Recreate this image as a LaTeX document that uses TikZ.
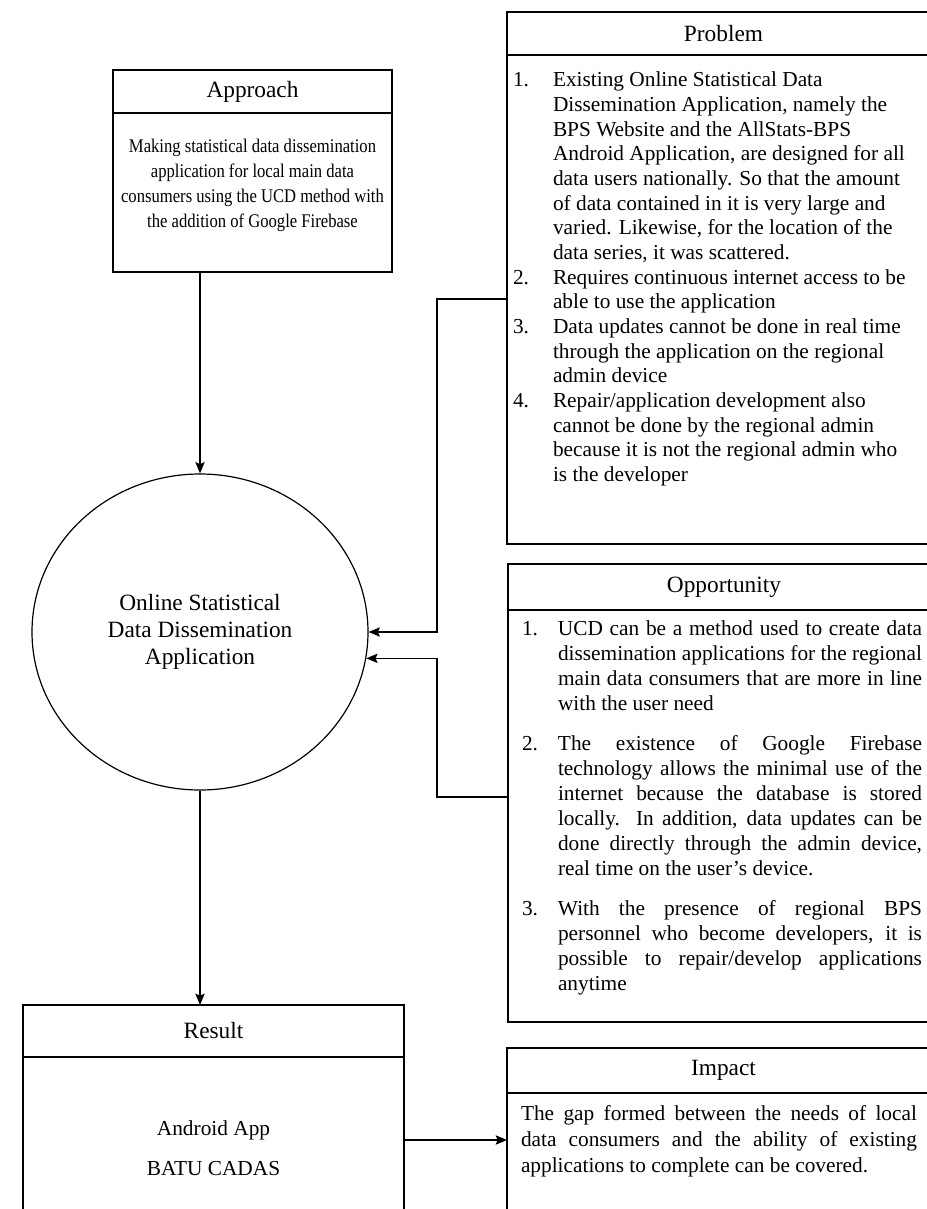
\documentclass[tikz,border=0pt]{standalone}
\usepackage{fontspec}
\setmainfont{Liberation Serif}
\newfontfamily\narrowserif[FakeStretch=0.86]{Liberation Serif}
\usetikzlibrary{positioning,shapes.geometric,arrows.meta}
\newlength\pxu
\setlength\pxu{0.75pt}
\newlength\linew
\newcommand{\jl}[1]{\makebox[\linew][s]{#1}}
\begin{document}
\begin{tikzpicture}[
    x=0.75pt, y=-0.75pt,
    line width=0.9pt,
    panel/.style={draw, rectangle, inner sep=0pt, outer sep=0pt},
    titlebox/.style={panel, font=\fontsize{17.5}{21}\selectfont},
    txt/.style={inner sep=0pt, outer sep=0pt, anchor=base west},
    thickline/.style={line width=2.2pt},
    arr/.style={->, >={Stealth[length=8.5pt, width=7pt, inset=1.5pt]}},
]
    \useasboundingbox (0,0) rectangle (927,1209);

    % Approach
    \node[titlebox, minimum width=279\pxu, minimum height=43\pxu, anchor=north west] (apprT) at (113,70) {Approach};
    \node[panel, minimum width=279\pxu, minimum height=159\pxu, below=0pt of apprT] (apprB) {};
    \node[inner sep=0pt, anchor=base, font=\narrowserif\fontsize{14.5}{18.75}\selectfont] (apprText) at (252.5,152) {\begin{tabular}[t]{@{}c@{}}
        Making statistical data dissemination\\
        application for local main data\\
        consumers using the UCD method with\\
        the addition of Google Firebase
    \end{tabular}};

    % Centre: the application
    \node[ellipse, draw, minimum width=336\pxu, minimum height=316\pxu, inner sep=0pt, align=center,
          font=\fontsize{17.5}{20.25}\selectfont] (dissem) at (200,632) {Online Statistical\\ Data Dissemination\\ Application};

    % Problem
    \node[titlebox, minimum width=433\pxu, minimum height=43\pxu, anchor=north west] (probT) at (507,12) {Problem};
    \node[panel, minimum width=433\pxu, minimum height=489\pxu, below=0pt of probT] (probB) {};
    \draw[thickline] (probT.north west) -- (probT.south west);
    \node[txt, font=\fontsize{16}{18.5}\selectfont] (probText) at (513,87) {\begin{tabular}[t]{@{}p{30pt}@{}l@{}}
        1. & Existing Online Statistical Data\\
           & Dissemination Application, namely the\\
           & BPS Website and the AllStats-BPS\\
           & Android Application, are designed for all\\
           & data users nationally. So that the amount\\
           & of data contained in it is very large and\\
           & varied. Likewise, for the location of the\\
           & data series, it was scattered.\\
        2. & Requires continuous internet access to be\\
           & able to use the application\\
        3. & Data updates cannot be done in real time\\
           & through the application on the regional\\
           & admin device\\
        4. & Repair/application development also\\
           & cannot be done by the regional admin\\
           & because it is not the regional admin who\\
           & is the developer
    \end{tabular}};

    % Opportunity
    \node[titlebox, minimum width=432\pxu, minimum height=46\pxu, anchor=north west] (oppT) at (508,564) {Opportunity};
    \node[panel, minimum width=432\pxu, minimum height=412\pxu, below=0pt of oppT] (oppB) {};
    \node[txt, font=\fontsize{16}{18.75}\selectfont] (oppText) at (522,635) {\setlength\linew{273pt}\begin{tabular}[t]{@{}p{27pt}@{}l@{}}
        1. & \jl{UCD can be a method used to create data}\\
           & \jl{dissemination applications for the regional}\\
           & \jl{main data consumers that are more in line}\\
           & with the user need\\[11.25pt]
        2. & \jl{The existence of Google Firebase}\\
           & \jl{technology allows the minimal use of the}\\
           & \jl{internet because the database is stored}\\
           & \jl{locally. In addition, data updates can be}\\
           & \jl{done directly through the admin device,}\\
           & real time on the user's device.\\[11.25pt]
        3. & \jl{With the presence of regional BPS}\\
           & \jl{personnel who become developers, it is}\\
           & \jl{possible to repair/develop applications}\\
           & anytime
    \end{tabular}};

    % Result
    \node[titlebox, minimum width=381\pxu, minimum height=52\pxu, anchor=north west] (resT) at (23,1005) {Result};
    \node[panel, minimum width=381\pxu, minimum height=166\pxu, below=0pt of resT] (resB) {};
    \draw[thickline] (resT.south west) -- (resT.south east);
    \node[inner sep=0pt, align=center, font=\fontsize{16}{30}\selectfont] (resText) at (213.5,1148) {Android App\\ BATU CADAS};

    % Impact
    \node[titlebox, minimum width=433\pxu, minimum height=45\pxu, anchor=north west] (impT) at (507,1048) {Impact};
    \node[panel, minimum width=433\pxu, minimum height=147\pxu, below=0pt of impT] (impB) {};
    \draw[thickline] (impT.north west) -- (impT.north east);
    \node[txt, font=\fontsize{16}{19.5}\selectfont] (impText) at (521,1120) {\setlength\linew{297pt}\begin{tabular}[t]{@{}l@{}}
        \jl{The gap formed between the needs of local}\\
        \jl{data consumers and the ability of existing}\\
        applications to complete can be covered.
    \end{tabular}};

    % Connectors
    \coordinate (pbend) at (437,299);
    \coordinate (obend) at (437,797);
    \draw[arr] (dissem.north |- apprB.south) -- (dissem.north);
    \draw[arr] (probB.west |- pbend) -- (pbend) |- (dissem.east);
    \draw[arr] (oppB.west |- obend) -- (obend) |- (dissem.-9.5);
    \draw[arr] (dissem.south) -- (dissem.south |- resT.north);
    \draw[arr] (resB.east) -- (resB.east -| impB.west);
\end{tikzpicture}
\end{document}
